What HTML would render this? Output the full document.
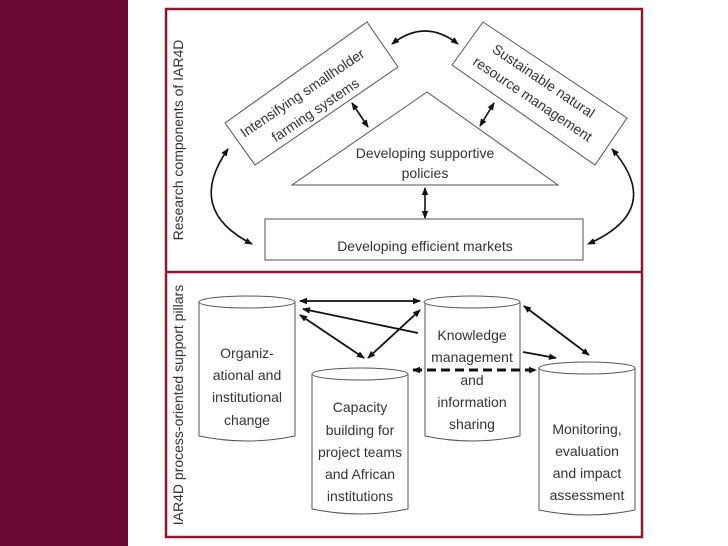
<!DOCTYPE html>
<html><head><meta charset="utf-8"><style>
body{margin:0;width:728px;height:546px;background:#fff;overflow:hidden}
svg{display:block}
text{font-family:"Liberation Sans",sans-serif;fill:#333;font-size:14px}
</style></head><body>
<svg width="728" height="546" viewBox="0 0 728 546" xmlns="http://www.w3.org/2000/svg">
<defs>
<marker id="a" markerWidth="8" markerHeight="8" refX="7" refY="4" orient="auto-start-reverse" markerUnits="userSpaceOnUse"><path d="M0,0.8 L8,4 L0,7.2z" fill="#111"/></marker>
</defs>
<rect x="0" y="0" width="128" height="546" fill="#6b0a35"/>
<rect x="166" y="9" width="476" height="528" fill="none" stroke="#8b1a30" stroke-width="2.5"/>
<line x1="166" y1="272" x2="642" y2="272" stroke="#8b1a30" stroke-width="2.5"/>
<text transform="translate(183,140) rotate(-90)" text-anchor="middle" font-size="14">Research components of IAR4D</text>
<text transform="translate(183,405) rotate(-90)" text-anchor="middle" font-size="14">IAR4D process-oriented support pillars</text>
<g fill="#fff" stroke="#555" stroke-width="1">
<polygon points="225,123 255,165 398,67 367,22"/>
<polygon points="452,65 483,22 627,118 595,165"/>
<polygon points="427,92 292,185 558,185"/>
<rect x="265" y="219" width="318" height="41"/>
</g>
<text transform="translate(305,97) rotate(-34)" text-anchor="middle" font-size="15">Intensifying smallholder</text>
<text transform="translate(318,114) rotate(-34)" text-anchor="middle" font-size="15">farming systems</text>
<text transform="translate(541,85) rotate(34)" text-anchor="middle" font-size="15">Sustainable natural</text>
<text transform="translate(530,103) rotate(34)" text-anchor="middle" font-size="15">resource management</text>
<text x="425" y="158" text-anchor="middle" font-size="15">Developing supportive</text>
<text x="425" y="178" text-anchor="middle" font-size="15">policies</text>
<text x="425" y="251" text-anchor="middle" font-size="15">Developing efficient markets</text>
<g fill="none" stroke="#111" stroke-width="1.6" marker-start="url(#a)" marker-end="url(#a)">
<path d="M392,44 Q425,18 458,44"/>
<path d="M228,149 Q185,210 252,244"/>
<path d="M612,149 Q665,210 588,244"/>
<line x1="352" y1="103" x2="368" y2="127"/>
<line x1="494" y1="103" x2="480" y2="126"/>
<line x1="425" y1="188" x2="425" y2="218"/>
</g>
<g fill="#fff" stroke="#555" stroke-width="1">
<path d="M199,302 L199,436 Q247,446 295,436 L295,302"/><ellipse cx="247" cy="302" rx="48" ry="6"/>
<path d="M312,374 L312,509 Q360,519 408,509 L408,374"/><ellipse cx="360" cy="374" rx="48" ry="6"/>
<path d="M425,302 L425,436 Q472,446 520,436 L520,302"/><ellipse cx="472" cy="302" rx="48" ry="6"/>
<path d="M539,368 L539,510 Q587,520 635,510 L635,368"/><ellipse cx="587" cy="368" rx="48" ry="6"/>
</g>
<g stroke="#111" stroke-width="1.8" fill="none">
<line x1="300" y1="301" x2="420" y2="301" marker-start="url(#a)" marker-end="url(#a)"/>
<line x1="418" y1="333" x2="303" y2="309" marker-end="url(#a)"/>
<line x1="300" y1="315" x2="364" y2="358" marker-start="url(#a)" marker-end="url(#a)"/>
<line x1="420" y1="310" x2="368" y2="358" marker-start="url(#a)" marker-end="url(#a)"/>
<line x1="524" y1="306" x2="589" y2="355" marker-start="url(#a)" marker-end="url(#a)"/>
<line x1="523" y1="352" x2="556" y2="358" marker-end="url(#a)"/>
<line x1="413" y1="370" x2="536" y2="370" stroke-width="3" stroke-dasharray="9,5" marker-start="url(#a)" marker-end="url(#a)"/>
</g>
<g font-size="15">
<text x="247" y="358" text-anchor="middle">Organiz-</text>
<text x="247" y="380" text-anchor="middle">ational and</text>
<text x="247" y="402" text-anchor="middle">institutional</text>
<text x="247" y="425" text-anchor="middle">change</text>
<text x="360" y="412" text-anchor="middle">Capacity</text>
<text x="360" y="435" text-anchor="middle">building for</text>
<text x="360" y="457" text-anchor="middle">project teams</text>
<text x="360" y="479" text-anchor="middle">and African</text>
<text x="360" y="501" text-anchor="middle">institutions</text>
<text x="472" y="340" text-anchor="middle">Knowledge</text>
<text x="472" y="362" text-anchor="middle">management</text>
<text x="472" y="385" text-anchor="middle">and</text>
<text x="472" y="407" text-anchor="middle">information</text>
<text x="472" y="429" text-anchor="middle">sharing</text>
<text x="587" y="434" text-anchor="middle">Monitoring,</text>
<text x="587" y="456" text-anchor="middle">evaluation</text>
<text x="587" y="478" text-anchor="middle">and impact</text>
<text x="587" y="500" text-anchor="middle">assessment</text>
</g>
</svg>
</body></html>
